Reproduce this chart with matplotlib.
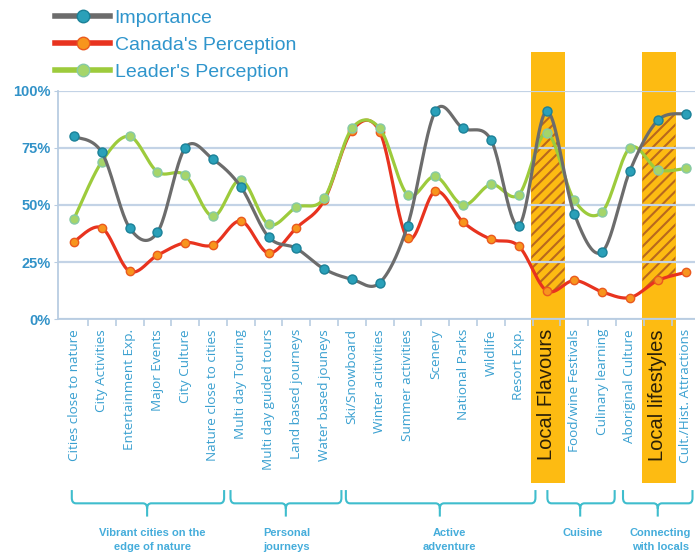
import matplotlib
matplotlib.use("Agg")
import matplotlib.pyplot as plt
import numpy as np
from matplotlib.lines import Line2D
from matplotlib.patches import Rectangle
from matplotlib.path import Path
from matplotlib.patches import PathPatch

plt.rcParams['hatch.linewidth'] = 1.5

categories = ["Cities close to nature", "City Activities", "Entertainment Exp.",
              "Major Events", "City Culture", "Nature close to cities",
              "Multi day Touring", "Multi day guided tours", "Land based journeys",
              "Water based jouneys", "Ski/Snowboard", "Winter acitivities",
              "Summer activities", "Scenery", "National Parks", "Wildlife",
              "Resort Exp.", "Local Flavours", "Food/wine Festivals",
              "Culinary learning", "Aboriginal Culture", "Local lifestyles",
              "Cult./Hist. Attractions"]

importance = [80, 73, 40, 38, 75, 70, 58, 36, 31, 22, 17.5, 16, 41, 91, 83.5,
              78.5, 41, 91, 46, 29.5, 65, 87, 90]
canada = [34, 40, 21, 28, 33.5, 32.5, 43, 29, 40, 52, 82.5, 82, 35.5, 56, 42.5,
          35, 32, 12.5, 17, 12, 9.5, 17, 20.5]
leader = [44, 69, 80, 64.5, 63, 45, 61, 41.5, 49, 53, 83.5, 83.5, 54.5, 62.5,
          50, 59, 54.5, 81.5, 52, 47, 75, 65.5, 66]

highlighted = ["Local Flavours", "Local lifestyles"]

groups = ["Vibrant cities on the\nedge of nature", "Personal\njourneys",
          "Active\nadventure", "Cuisine", "Connecting\nwith locals"]
# bracket extents (left, centre, right) in category units
group_spans = [(-0.08, 2.63, 5.40), (5.63, 7.62, 9.62), (9.78, 13.16, 16.60),
               (17.03, 18.21, 19.45), (19.75, 21.0, 22.25)]
group_text_x = [2.83, 7.64, 13.52, 18.3, 21.1]

blue_txt = '#3aa0d0'
c_imp, c_can, c_lead = '#6c6c6c', '#e8331f', '#9dcb3c'


def smooth(xs, ys, n=40):
    # cardinal spline through the points, drawn as cubic bezier pieces
    px = np.r_[xs[0], xs, xs[-1]].astype(float)
    py = np.r_[ys[0], ys, ys[-1]].astype(float)
    ox, oy = [], []
    for i in range(len(xs) - 1):
        p0, p1, p2, p3 = [np.array([px[k], py[k]]) for k in range(i, i + 4)]
        c1 = p1 + (p2 - p0) / 6
        c2 = p2 - (p3 - p1) / 6
        t = np.linspace(0, 1, n, endpoint=(i == len(xs) - 2))[:, None]
        b = (1 - t) ** 3 * p1 + 3 * (1 - t) ** 2 * t * c1 + 3 * (1 - t) * t ** 2 * c2 + t ** 3 * p2
        ox.append(b[:, 0])
        oy.append(b[:, 1])
    return np.concatenate(ox), np.concatenate(oy)


fig = plt.figure(figsize=(6.95, 5.6), dpi=100)
ax = fig.add_axes([58 / 695, 240.7 / 560, 637 / 695, 228.6 / 560])

x = np.arange(len(categories))
ax.set_xlim(-0.576, 22.34)
ax.set_ylim(0, 100)

# highlight columns
for name in highlighted:
    i = categories.index(name)
    ax.add_patch(Rectangle((i - 0.57, -71.6), 1.23, 117.1 + 71.6, facecolor='#fdbb12',
                           edgecolor='none', zorder=0.3, clip_on=False))

ax.set_axisbelow(True)
ax.yaxis.grid(True, color='#c3d3e6', lw=1.6)
ax.set_yticks([0, 25, 50, 75, 100])
ax.set_yticklabels(['0%', '25%', '50%', '75%', '100%'])
for s in ['top', 'right']:
    ax.spines[s].set_visible(False)
for s in ['left', 'bottom']:
    ax.spines[s].set_color('#b9cde2')
    ax.spines[s].set_linewidth(1.3)
ax.tick_params(axis='y', colors='#b9cde2', length=3, pad=2, labelcolor='#3192c8',
               labelsize=10.5)
for lab in ax.get_yticklabels():
    lab.set_fontweight('bold')
    lab.set_family('Liberation Sans')

ax.set_xticks(x)
ax.set_xticklabels(categories, rotation=90, fontsize=9.7, color=blue_txt,
                   family='Open Sans', va='top')
ax.set_xticks(x[:-1] + 0.5, minor=True)
ax.tick_params(axis='x', which='major', length=0, pad=7)
ax.tick_params(axis='x', which='minor', length=5, color='#b9cde2', width=1.2)
for lab in ax.get_xticklabels():
    if lab.get_text() in highlighted:
        lab.set_color('#2b2008')
        lab.set_fontsize(14.5)
        lab.set_family('Liberation Sans')

# smooth curves
sx, s_imp = smooth(x, importance)
_, s_can = smooth(x, canada)
_, s_lead = smooth(x, leader)

# hatched gap between importance and Canada inside the highlighted columns
for name in highlighted:
    i = categories.index(name)
    m = (sx >= i - 0.57) & (sx <= i + 0.66)
    ax.fill_between(sx[m], s_can[m], s_imp[m], facecolor='none', edgecolor='#b8681e',
                    hatch='///', linewidth=0, zorder=0.4)

ax.plot(sx, s_can, color=c_can, lw=2.3, zorder=2, solid_capstyle='round')
ax.plot(x, canada, 'o', ms=6, mfc='#f7951d', mec='#ea5a1f', mew=1, zorder=2.1)
ax.plot(sx, s_lead, color=c_lead, lw=2.3, zorder=3, solid_capstyle='round')
ax.plot(x, leader, 'o', ms=6.5, mfc='#a5d56a', mec='#86c9a6', mew=1, zorder=3.1)
ax.plot(sx, s_imp, color=c_imp, lw=2.3, zorder=4, solid_capstyle='round')
ax.plot(x, importance, 'o', ms=6.5, mfc='#2aa0b9', mec='#1b8198', mew=1, zorder=4.1)

# group brackets under the category labels
y_top, y_mid, y_bot = -74.7, -80.5, -86.3
rx, ry = 0.15, 2.4
for (l, c, r), name, tx in zip(group_spans, groups, group_text_x):
    verts = [(l, y_top), (l, y_mid + ry), (l, y_mid), (l + rx, y_mid),
             (c - rx, y_mid), (c, y_mid), (c, y_mid - ry), (c, y_bot),
             (c, y_mid - ry), (c, y_mid), (c + rx, y_mid),
             (r - rx, y_mid), (r, y_mid), (r, y_mid + ry), (r, y_top)]
    codes = [Path.MOVETO, Path.LINETO, Path.CURVE3, Path.CURVE3, Path.LINETO,
             Path.CURVE3, Path.CURVE3, Path.LINETO, Path.MOVETO, Path.CURVE3,
             Path.CURVE3, Path.LINETO, Path.CURVE3, Path.CURVE3, Path.LINETO]
    ax.add_patch(PathPatch(Path(verts, codes), facecolor='none', edgecolor='#3fbdcd',
                           lw=1.5, clip_on=False))
    ax.text(tx, -91.3, name, ha='center', va='top', fontsize=8, color='#45addb',
            family='Liberation Sans', fontweight='bold', linespacing=1.55)

handles = [
    Line2D([], [], color=c_imp, lw=4, marker='o', ms=9, mfc='#2aa0b9', mec='#1b8198'),
    Line2D([], [], color=c_can, lw=4, marker='o', ms=9, mfc='#f7951d', mec='#ea5a1f'),
    Line2D([], [], color=c_lead, lw=4, marker='o', ms=9, mfc='#a5d56a', mec='#86c9a6'),
]
fig.legend(handles, ["Importance", "Canada's Perception", "Leader's Perception"],
           loc='upper left', bbox_to_anchor=(55 / 695, 1 - 9 / 560), frameon=False,
           borderpad=0, borderaxespad=0, handlelength=2.85, handletextpad=0.22,
           labelspacing=0.5, prop={'family': 'Liberation Sans', 'size': 14},
           labelcolor='#2f95cc')

fig.savefig('out.png', dpi=100)
